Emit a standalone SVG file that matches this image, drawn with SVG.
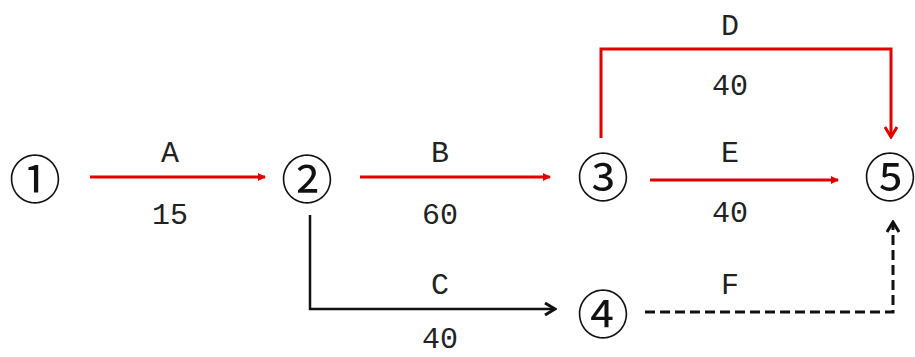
<svg xmlns="http://www.w3.org/2000/svg" width="915" height="357" viewBox="0 0 915 357">
<style>
.node{font-family:"Noto Sans CJK SC","Noto Sans",sans-serif;font-size:52px;fill:#111;text-anchor:middle;dominant-baseline:central}
.lbl{font-family:"Liberation Mono","DejaVu Sans Mono",monospace;font-size:30px;fill:#222;text-anchor:middle}
.red{stroke:#e00000;stroke-width:3;fill:none}
.blk{stroke:#111;stroke-width:2.5;fill:none}
.dash{stroke:#111;stroke-width:3;fill:none;stroke-dasharray:10,5}
</style>
<defs>
<marker id="rtri" markerWidth="8" markerHeight="8" refX="7" refY="4" orient="auto" markerUnits="userSpaceOnUse" viewBox="0 0 8 8"><path d="M0,0 L8,4 L0,8 z" fill="#e00000"/></marker>
<marker id="rv" markerWidth="14" markerHeight="14" refX="12" refY="7" orient="auto" markerUnits="userSpaceOnUse" viewBox="0 0 14 14"><path d="M2,1 L12,7 L2,13" fill="none" stroke="#e00000" stroke-width="3"/></marker>
<marker id="kv" markerWidth="14" markerHeight="14" refX="12" refY="7" orient="auto" markerUnits="userSpaceOnUse" viewBox="0 0 14 14"><path d="M2,1 L12,7 L2,13" fill="none" stroke="#111" stroke-width="3"/></marker>
</defs>
<g id="connectors">
<path class="red" d="M90,177 L265,177" marker-end="url(#rtri)"/>
<path class="red" d="M360,177 L550,177" marker-end="url(#rtri)"/>
<path class="red" d="M650,180 L838,180" marker-end="url(#rtri)"/>
<path class="red" d="M601,138 L601,49 L891,49 L891,137" marker-end="url(#rv)"/>
<path class="blk" d="M310,215 L310,309 L555,309" marker-end="url(#kv)"/>
<path class="dash" d="M645,312 L893,312 L893,222" marker-end="url(#kv)"/>
</g>
<g id="n1"><text class="node" x="35" y="176">①</text></g>
<g id="n2"><text class="node" x="307" y="176">②</text></g>
<g id="n3"><text class="node" x="603" y="174">③</text></g>
<g id="n4"><text class="node" x="603" y="311">④</text></g>
<g id="n5"><text class="node" x="890" y="174">⑤</text></g>
<g id="labels">
<text class="lbl" x="170" y="162">A</text>
<text class="lbl" x="170" y="224">15</text>
<text class="lbl" x="440" y="162">B</text>
<text class="lbl" x="440" y="224">60</text>
<text class="lbl" x="440" y="294">C</text>
<text class="lbl" x="440" y="348">40</text>
<text class="lbl" x="730" y="35">D</text>
<text class="lbl" x="730" y="95">40</text>
<text class="lbl" x="730" y="162">E</text>
<text class="lbl" x="730" y="222">40</text>
<text class="lbl" x="730" y="294">F</text>
</g>
</svg>
